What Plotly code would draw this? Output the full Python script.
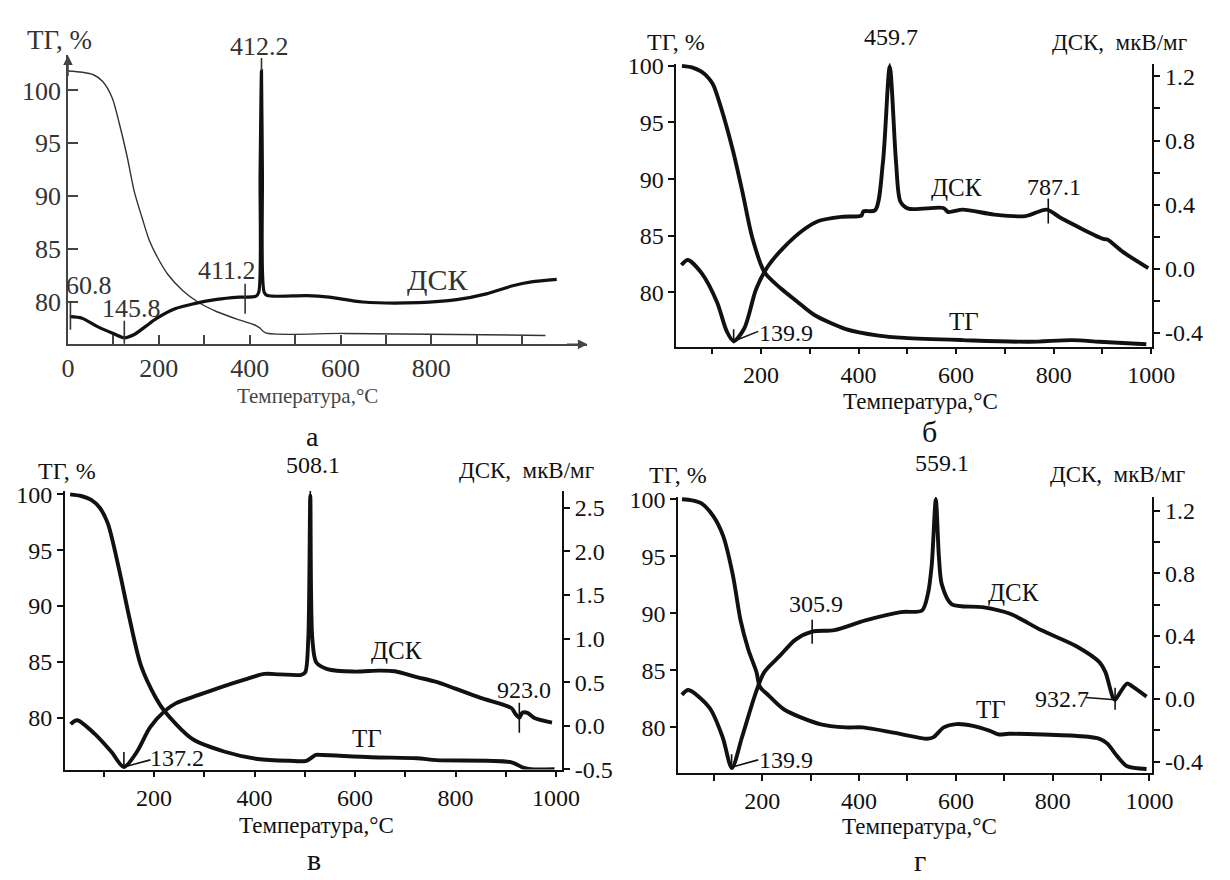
import numpy as np
import plotly.graph_objects as go

W, H = 1230, 880
SERIF = "Liberation Serif, Times New Roman, serif"
INK = "#111111"
GREY = "#333333"

# ---------------- data ----------------
# panel а : TG (thin) and DSC (thick, no own scale)
tg_a_T = [0, 31, 56, 76, 97, 113, 130, 146, 163, 179, 196, 220, 253, 286, 328, 377, 410, 422, 435, 608, 855, 1051]
tg_a = [101.84, 101.72, 101.48, 100.86, 99.33, 96.87, 93.8, 90.43, 87.98, 85.83, 84.3, 82.6, 81.07, 80.0,
        79.08, 78.31, 77.85, 77.55, 77.08, 77.03, 76.93, 76.84]
dsc_a_T = [4, 31, 64, 97, 124, 146, 171, 196, 237, 278, 328, 377, 414, 420, 423, 426, 428, 432, 439,
           526, 575, 649, 773, 856, 921, 979, 1020, 1076]
dsc_a = [78.62, 78.47, 77.7, 77.08, 76.62, 76.93, 77.7, 78.47, 79.38, 79.85, 80.25, 80.46, 80.55, 80.92,
         92.27, 101.84, 92.27, 80.92, 80.61, 80.61, 80.46, 80.0, 79.94, 80.22, 80.77, 81.53, 81.9, 82.14]

# panel б
tg_b_T = [38, 60, 78, 92, 102, 118, 142, 162, 182, 207, 241, 274, 308, 374, 441, 494, 614, 750, 838, 894, 990]
tg_b = [100.0, 99.85, 99.48, 98.95, 98.34, 96.33, 92.61, 88.88, 84.87, 81.8, 80.34, 79.2, 78.05, 76.76,
        76.19, 75.99, 75.79, 75.64, 75.79, 75.64, 75.42]
dsc_b_T = [37, 50, 78, 110, 130, 144, 166, 190, 214, 246, 286, 318, 366, 406, 410, 434, 450, 464, 477,
           486, 502, 574, 584, 614, 678, 742, 786, 814, 902, 910, 942, 994]
dsc_b = [0.024, 0.055, -0.026, -0.209, -0.391, -0.452, -0.371, -0.128, 0.014, 0.13, 0.24, 0.298, 0.324,
         0.332, 0.358, 0.365, 0.662, 1.26, 0.662, 0.419, 0.375, 0.379, 0.354, 0.369, 0.338, 0.328, 0.369,
         0.318, 0.186, 0.182, 0.105, 0.004]

# panel в
tg_c_T = [33, 55, 75, 92, 108, 130, 152, 174, 204, 221, 276, 341, 406, 470, 503, 522, 535, 632, 723, 762,
          910, 936, 950, 997]
tg_c = [100.0, 99.85, 99.5, 98.8, 97.4, 93.37, 88.72, 84.66, 81.74, 80.58, 78.1, 76.95, 76.3, 76.14, 76.14,
        76.66, 76.66, 76.46, 76.37, 76.2, 76.02, 75.5, 75.38, 75.38]
dsc_c_T = [34, 47, 82, 115, 140, 166, 192, 221, 244, 289, 335, 380, 420, 450, 493, 501, 507, 511, 515,
           523, 545, 597, 649, 679, 723, 762, 798, 850, 911, 920, 927, 933, 943, 956, 992]
dsc_c = [0.019, 0.064, -0.093, -0.298, -0.473, -0.298, -0.019, 0.168, 0.26, 0.354, 0.447, 0.53, 0.595,
         0.59, 0.585, 0.615, 1.0, 2.64, 1.0, 0.726, 0.651, 0.622, 0.633, 0.626, 0.559, 0.503, 0.43, 0.32,
         0.204, 0.131, 0.093, 0.149, 0.149, 0.093, 0.037]

# panel г
tg_d_T = [34, 55, 75, 99, 119, 139, 155, 171, 188, 195, 212, 245, 319, 373, 407, 474, 541, 554, 575, 601,
          635, 669, 689, 709, 857, 897, 913, 934, 954, 994]
tg_d = [100.0, 99.9, 99.62, 98.49, 96.78, 93.37, 89.39, 86.83, 84.84, 83.56, 82.84, 81.57, 80.29, 80.0,
        80.0, 79.52, 79.01, 79.15, 80.0, 80.29, 80.14, 79.72, 79.38, 79.44, 79.23, 79.0, 78.58, 77.44, 76.59,
        76.36]
dsc_d_T = [34, 47, 91, 118, 137, 158, 185, 204, 236, 268, 303, 349, 413, 486, 530, 542, 550, 558.5, 565,
           571, 591, 655, 712, 776, 849, 897, 909, 925, 929, 934, 954, 966, 994]
dsc_d = [0.025, 0.056, -0.058, -0.245, -0.441, -0.245, 0.025, 0.17, 0.273, 0.376, 0.428, 0.438, 0.5,
         0.553, 0.563, 0.666, 0.85, 1.27, 0.9, 0.728, 0.604, 0.584, 0.542, 0.438, 0.335, 0.232, 0.17, 0.004,
         -0.006, 0.014, 0.097, 0.076, 0.014]

# axis tick values
tg_ticks = [80, 85, 90, 95, 100]
x_ticks = list(range(0, 1001, 100))
x_text_a = ["0", "", "200", "", "400", "", "600", "", "800", "", ""]
x_text = ["", "", "200", "", "400", "", "600", "", "800", "", "1000"]
dsc_ticks_small = [-0.4, -0.2, 0.0, 0.2, 0.4, 0.6, 0.8, 1.0, 1.2]
dsc_text_small = ["-0.4", "", "0.0", "", "0.4", "", "0.8", "", "1.2"]
dsc_ticks_big = [-0.5, 0.0, 0.5, 1.0, 1.5, 2.0, 2.5]
dsc_text_big = ["-0.5", "0.0", "0.5", "1.0", "1.5", "2.0", "2.5"]

# ---------------- layout geometry (pixels) ----------------
PA = dict(x0=62.5, x1=595, xr=[0, 1143.7], yb=343.3, yt=46.7, yr=[76.0, 103.3])
PB = dict(x0=686, x1=1174, xr=[26.4, 1002.4], yb=345.7, yt=55, yr=[75.21, 100.2], y2r=[-0.486, 1.28])
PC = dict(x0=59.2, x1=569, xr=[22.3, 1012.2], yb=780, yt=494, yr=[75.35, 100.29], y2r=[-0.503, 2.693])
PD = dict(x0=688, x1=1174, xr=[26.2, 1006], yb=783.3, yt=500, yr=[76.02, 100.2], y2r=[-0.472, 1.287])
TICK = 24


def dx(p):
    return [p["x0"] / W, p["x1"] / W]


def dy(p):
    return [1 - p["yb"] / H, 1 - p["yt"] / H]


def to_data(p, px, py, right=True):
    xr = p["xr"]
    yr = p["y2r"] if right else p["yr"]
    x = xr[0] + (px - p["x0"]) / (p["x1"] - p["x0"]) * (xr[1] - xr[0])
    y = yr[0] + (p["yb"] - py) / (p["yb"] - p["yt"]) * (yr[1] - yr[0])
    return x, y


fig = go.Figure()
line_kw = dict(shape="spline", smoothing=0.8)
fig.add_trace(go.Scatter(x=tg_a_T, y=tg_a, xaxis="x", yaxis="y", mode="lines",
                         line=dict(color=GREY, width=1.4, **line_kw)))
fig.add_trace(go.Scatter(x=dsc_a_T, y=dsc_a, xaxis="x", yaxis="y2", mode="lines",
                         line=dict(color=INK, width=3.2, **line_kw)))
for xs, ys, xa, ya in [(tg_b_T, tg_b, "x2", "y3"), (dsc_b_T, dsc_b, "x2", "y4"),
                       (tg_c_T, tg_c, "x3", "y5"), (dsc_c_T, dsc_c, "x3", "y6"),
                       (tg_d_T, tg_d, "x4", "y7"), (dsc_d_T, dsc_d, "x4", "y8")]:
    fig.add_trace(go.Scatter(x=xs, y=ys, xaxis=xa, yaxis=ya, mode="lines",
                             line=dict(color=INK, width=3.9, **line_kw)))


def xax(p, anchor, ticks, ticklen, text, size, color, lc):
    return dict(domain=dx(p), range=p["xr"], anchor=anchor, showline=True, linecolor=lc, linewidth=1.6,
                ticks=ticks, ticklen=ticklen, tickwidth=1.5, tickcolor=lc, tickvals=x_ticks, ticktext=text,
                tickfont=dict(family=SERIF, size=size, color=color), showgrid=False, zeroline=False,
                fixedrange=True)


def yax(p, anchor, ticks, ticklen, size, color, lc):
    return dict(domain=dy(p), range=p["yr"], anchor=anchor, showline=True, linecolor=lc, linewidth=1.6,
                ticks=ticks, ticklen=ticklen, tickwidth=1.5, tickcolor=lc, tickvals=tg_ticks,
                tickfont=dict(family=SERIF, size=size, color=color), showgrid=False, zeroline=False,
                fixedrange=True)


def y2ax(p, anchor, overlay, vals, text, size):
    return dict(range=p["y2r"], anchor=anchor, overlaying=overlay, side="right", showline=True,
                linecolor=INK, linewidth=1.6, ticks="outside", ticklen=6, tickwidth=1.5, tickcolor=INK,
                tickvals=vals, ticktext=text, tickfont=dict(family=SERIF, size=size, color=INK),
                showgrid=False, zeroline=False, fixedrange=True)


layout = dict(
    width=W, height=H, autosize=False, margin=dict(l=0, r=0, t=0, b=0),
    paper_bgcolor="white", plot_bgcolor="rgba(0,0,0,0)", showlegend=False,
    xaxis=xax(PA, "y", "inside", 10, x_text_a, 26, GREY, "#444"),
    yaxis=yax(PA, "x", "inside", 10, 26, GREY, "#444"),
    yaxis2=dict(range=PA["yr"], anchor="x", overlaying="y", visible=False, fixedrange=True),
    xaxis2=xax(PB, "y3", "outside", 6, x_text, TICK, INK, INK),
    yaxis3=yax(PB, "x2", "outside", 6, TICK, INK, INK),
    yaxis4=y2ax(PB, "x2", "y3", dsc_ticks_small, dsc_text_small, TICK),
    xaxis3=xax(PC, "y5", "outside", 6, x_text, TICK, INK, INK),
    yaxis5=yax(PC, "x3", "outside", 6, TICK, INK, INK),
    yaxis6=y2ax(PC, "x3", "y5", dsc_ticks_big, dsc_text_big, TICK),
    xaxis4=xax(PD, "y7", "outside", 6, x_text, TICK, INK, INK),
    yaxis7=yax(PD, "x4", "outside", 6, TICK, INK, INK),
    yaxis8=y2ax(PD, "x4", "y7", dsc_ticks_small, dsc_text_small, TICK),
)
fig.update_layout(**layout)

# ---------------- text ----------------
ann = []


def T(px, py, text, size=24, color=INK):
    ann.append(dict(x=px / W, y=1 - py / H, xref="paper", yref="paper", text=text, showarrow=False,
                    xanchor="center", yanchor="middle", font=dict(family=SERIF, size=size, color=color)))


# panel а
T(54, 31, "ТГ, %", 27, GREY)
T(259, 37, "412.2", 26, GREY)
T(84, 283, "60.8", 26, GREY)
T(128, 307, "145.8", 26, GREY)
T(225, 267, "411.2", 26, GREY)
T(441, 277, "ДСК", 30, GREY)
T(308, 396, "Температура,°C", 21, "#444")
T(313, 438, "а", 28, INK)
# panel б
T(686, 33, "ТГ, %", 24)
T(906, 28, "459.7", 24)
T(1140, 33, "ДСК,  мкВ/мг", 23)
T(973, 182, "ДСК", 25)
T(1073, 182, "787.1", 24)
T(798, 332, "139.9", 24)
T(981, 320, "ТГ", 25)
T(936, 402, "Температура,°C", 23)
T(946, 433, "б", 30)
# panel в
T(61, 473, "ТГ, %", 24)
T(314, 467, "508.1", 24)
T(532, 473, "ДСК,  мкВ/мг", 23)
T(399, 658, "ДСК", 25)
T(530, 698, "923.0", 24)
T(369, 748, "ТГ", 25)
T(174, 768, "137.2", 24)
T(317, 837, "Температура,°C", 23)
T(315, 872, "в", 30)
# panel г
T(688, 477, "ТГ, %", 24)
T(958, 465, "559.1", 24)
T(1138, 477, "ДСК,  мкВ/мг", 23)
T(829, 610, "305.9", 24)
T(1032, 598, "ДСК", 25)
T(1009, 718, "ТГ", 25)
T(1081, 707, "932.7", 24)
T(798, 770, "139.9", 24)
T(935, 838, "Температура,°C", 23)
T(936, 873, "г", 30)

# axis arrows of panel а
ann.append(dict(x=PA["x0"] / W, y=1 - PA["yt"] / H, xref="paper", yref="paper", text="", showarrow=True,
                ax=0, ay=22, arrowhead=2, arrowsize=1.2, arrowwidth=1.6, arrowcolor="#444"))
ann.append(dict(x=PA["x1"] / W, y=1 - PA["yb"] / H, xref="paper", yref="paper", text="", showarrow=True,
                ax=-22, ay=0, arrowhead=2, arrowsize=1.2, arrowwidth=1.6, arrowcolor="#444"))
fig.update_layout(annotations=ann)

# ---------------- marker lines ----------------
shapes = []


def vmark(xa, ya, xs, ys, x, up, down, color=INK, width=1.6):
    y = float(np.interp(x, xs, ys))
    shapes.append(dict(type="line", xref=xa, yref=ya, x0=x, x1=x, ysizemode="pixel", yanchor=y,
                       y0=-down, y1=up, line=dict(color=color, width=width)))


def leader(p, xa, ya, xs, ys, x, px, py):
    y = float(np.interp(x, xs, ys))
    tx, ty = to_data(p, px, py, right=True)
    shapes.append(dict(type="line", xref=xa, yref=ya, x0=x, y0=y, x1=tx, y1=ty,
                       line=dict(color=INK, width=1.6)))


# а
vmark("x", "y2", dsc_a_T, dsc_a, 426, 13, 0, GREY)
vmark("x", "y2", dsc_a_T, dsc_a, 5.4, 15, 13, GREY)
vmark("x", "y2", dsc_a_T, dsc_a, 124, 17, 6, GREY)
vmark("x", "y2", dsc_a_T, dsc_a, 390, 13, 17, GREY)
# б
vmark("x2", "y4", dsc_b_T, dsc_b, 464, 18, 4)
vmark("x2", "y4", dsc_b_T, dsc_b, 789, 12, 13)
vmark("x2", "y4", dsc_b_T, dsc_b, 144, 12, 2)
leader(PB, "x2", "y4", dsc_b_T, dsc_b, 144, 770, 330)
# в
vmark("x3", "y6", dsc_c_T, dsc_c, 511, 21, 3)
vmark("x3", "y6", dsc_c_T, dsc_c, 927, 15, 15)
vmark("x3", "y6", dsc_c_T, dsc_c, 140, 15, 1)
leader(PC, "x3", "y6", dsc_c_T, dsc_c, 140, 147, 770)
# г
vmark("x4", "y8", dsc_d_T, dsc_d, 558.5, 23, 3)
vmark("x4", "y8", dsc_d_T, dsc_d, 303, 12, 12)
vmark("x4", "y8", dsc_d_T, dsc_d, 929, 12, 10)
vmark("x4", "y8", dsc_d_T, dsc_d, 136.5, 13, 0)
leader(PD, "x4", "y8", dsc_d_T, dsc_d, 136.5, 770, 770)
leader(PD, "x4", "y8", dsc_d_T, dsc_d, 929, 1106, 706)
fig.update_layout(shapes=shapes)

fig.write_html("out.html")
